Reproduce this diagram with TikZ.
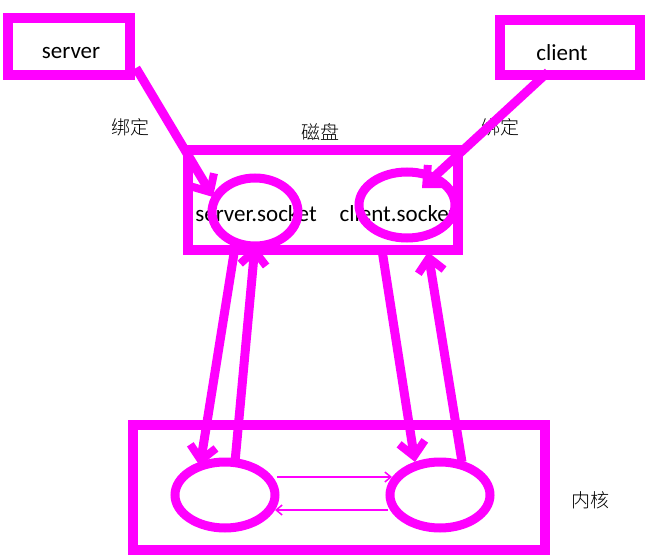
\documentclass[tikz,border=0pt]{standalone}
\usepackage{fontspec}
\setmainfont{Carlito}
\newfontfamily\cjk{Noto Sans CJK SC Light}
\usetikzlibrary{arrows.meta,shapes.geometric}
\definecolor{mag}{HTML}{FF00FF}
\begin{document}
\begin{tikzpicture}[x=1pt,y=-1pt,
  box/.style={draw=mag,line width=10pt,inner sep=0pt,rectangle},
  ell/.style={draw=mag,line width=9pt,ellipse,inner sep=0pt},
  big/.style={draw=mag,line width=9pt,-{Straight Barb[length=14pt,width=26pt,line width=8pt]}},
  thin/.style={draw=mag,line width=1.5pt,-{Straight Barb[length=6pt,width=10pt]}},
  lab/.style={font=\fontsize{23}{27}\selectfont},
  zh/.style={font=\cjk\fontsize{19}{22}\selectfont}]
\useasboundingbox (0,0) rectangle (656,559);
\node[lab] (ts) at (71,53) {server};
\node[lab] (tc) at (562,53) {client};
\node[lab] (tss) at (256,214) {server.socket};
\node[lab] (tcs) at (398,214) {client.socket};
\node[box,minimum width=122pt,minimum height=57pt] (srv) at (69,46.5) {};
\node[box,minimum width=140pt,minimum height=55pt] (cli) at (570,47.5) {};
\node[box,minimum width=270pt,minimum height=100pt] (disk) at (323,200) {};
\node[box,minimum width=412pt,minimum height=125pt] (kern) at (339,487.5) {};
\node[ell,minimum width=86pt,minimum height=68pt] (ss) at (255,212) {};
\node[ell,minimum width=96pt,minimum height=66pt] (cs) at (407,205) {};
\node[ell,minimum width=100pt,minimum height=66pt] (ks) at (225,495) {};
\node[ell,minimum width=100pt,minimum height=66pt] (kc) at (440,495) {};
\node[zh] (z1) at (130,127) {绑定};
\node[zh] (z2) at (500,127) {绑定};
\node[zh] (z3) at (320,132) {磁盘};
\node[zh] (z4) at (590,500) {内核};
\coordinate (a1) at (136,68); \coordinate (a2) at (213,197);
\coordinate (b1) at (548,72); \coordinate (b2) at (422,188);
\coordinate (c1) at (235,247); \coordinate (c2) at (200,466);
\coordinate (d1) at (235,462); \coordinate (d2) at (255,245);
\coordinate (e1) at (382,250); \coordinate (e2) at (415,462);
\coordinate (f1) at (462,462); \coordinate (f2) at (428,252);
\draw[big] (a1) -- (a2);
\draw[big] (b1) -- (b2);
\draw[big] (c1) -- (c2);
\draw[big] (d1) -- (d2);
\draw[big] (e1) -- (e2);
\draw[big] (f1) -- (f2);
\coordinate (g1) at (277,477); \coordinate (g2) at (392,477);
\coordinate (h1) at (388,510); \coordinate (h2) at (275,510);
\draw[thin] (g1) -- (g2);
\draw[thin] (h1) -- (h2);
\end{tikzpicture}
\end{document}
